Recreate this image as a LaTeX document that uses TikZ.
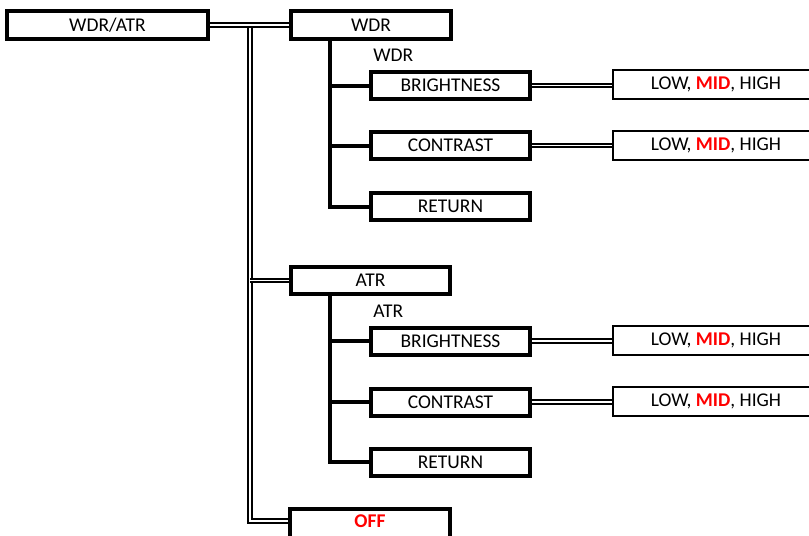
\documentclass[tikz,border=0pt]{standalone}
\usepackage{fontspec}
\setmainfont{Carlito}
\definecolor{offred}{RGB}{255,0,0}
\begin{document}
\begin{tikzpicture}[x=0.75pt,y=-0.75pt,
  every node/.style={font=\fontsize{14.6}{17}\selectfont, inner sep=0pt},
  bigbox/.style={draw, line width=3pt, rectangle},
  subbox/.style={draw, line width=3pt, rectangle, minimum width=159*0.75pt, minimum height=27*0.75pt},
  valbox/.style={draw, line width=1.5pt, rectangle, minimum width=206*0.75pt, minimum height=29*0.75pt},
  dline/.style={draw, double, line width=1.4pt, double distance=1.1pt},
  tline/.style={draw, line width=3pt},
  redbf/.style={text=offred, font=\fontsize{14.6}{17}\selectfont\bfseries}]
\useasboundingbox (0,0) rectangle (809,535);
\clip (0,0) rectangle (809,535);
% main boxes
\node[bigbox, minimum width=201*0.75pt, minimum height=28*0.75pt] (wdratr) at (107.5,25) {WDR/ATR};
\node[bigbox, minimum width=160*0.75pt, minimum height=28*0.75pt] (wdr) at (371,25) {WDR};
\node[bigbox, minimum width=159*0.75pt, minimum height=27*0.75pt] (atr) at (370.5,280.5) {ATR};
\node[bigbox, minimum width=160*0.75pt, minimum height=41*0.75pt] (off) at (370,529.5) {};
\node[redbf] (offt) at (370,521) {OFF};
% labels
\node[anchor=west] (lwdr) at (373,55) {WDR};
\node[anchor=west] (latr) at (373,311) {ATR};
% WDR sub boxes
\node[subbox] (br1) at (450.5,85.5) {BRIGHTNESS};
\node[subbox] (co1) at (450.5,145.5) {CONTRAST};
\node[subbox] (re1) at (450.5,206.5) {RETURN};
\node[subbox] (br2) at (450.5,341) {BRIGHTNESS};
\node[subbox] (co2) at (450.5,402) {CONTRAST};
\node[subbox] (re2) at (450.5,462) {RETURN};
% value boxes
\node[valbox] (v1) at (716,84.5) {LOW, \textcolor{offred}{\bfseries MID}, HIGH};
\node[valbox] (v2) at (716,145) {LOW, \textcolor{offred}{\bfseries MID}, HIGH};
\node[valbox] (v3) at (716,340.5) {LOW, \textcolor{offred}{\bfseries MID}, HIGH};
\node[valbox] (v4) at (716,401.5) {LOW, \textcolor{offred}{\bfseries MID}, HIGH};
% coordinates
\coordinate (j1) at (250,25);
\coordinate (j2) at (250,521);
\coordinate (t1) at (330,39);
\coordinate (t2) at (330,294);
% double connectors
\path[dline] (j1) -- (j2) -- (j2 -| off.west);
\path[dline] (j1 |- atr.west) -- (atr.west);
\path[dline] (wdratr.east) -- (wdr.west);
\path[dline] (br1.east) -- (v1.west |- br1.east);
\path[dline] (co1.east) -- (v2.west |- co1.east);
\path[dline] (br2.east) -- (v3.west |- br2.east);
\path[dline] (co2.east) -- (v4.west |- co2.east);
% tree connectors
\path[tline] (t1) |- (re1.west);
\path[tline] (t1 |- br1.west) -- (br1.west);
\path[tline] (t1 |- co1.west) -- (co1.west);
\path[tline] (t2) |- (re2.west);
\path[tline] (t2 |- br2.west) -- (br2.west);
\path[tline] (t2 |- co2.west) -- (co2.west);
\end{tikzpicture}
\end{document}
